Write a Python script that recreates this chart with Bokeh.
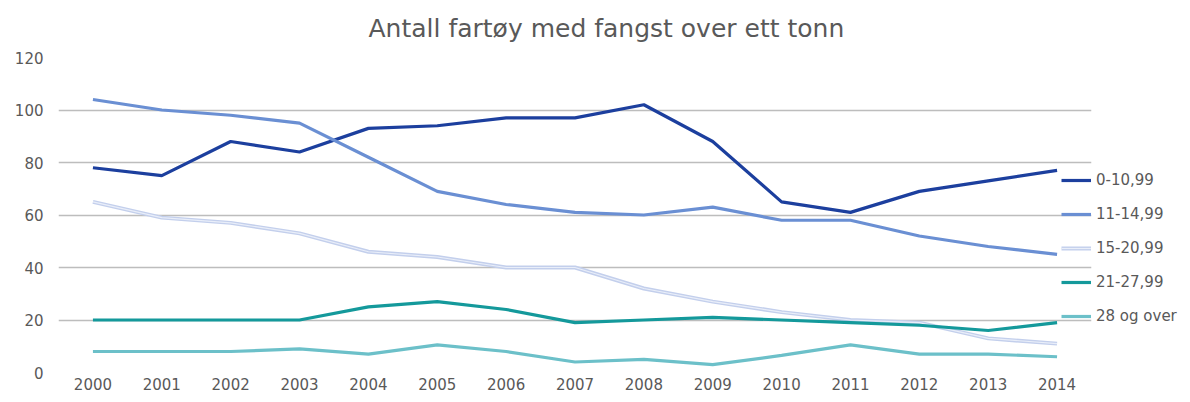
from bokeh.plotting import figure
from bokeh.models import Legend, LegendItem, Range1d, FactorRange, ColumnDataSource
from bokeh.embed import file_html
from bokeh.resources import INLINE

years = ["2000", "2001", "2002", "2003", "2004", "2005", "2006", "2007",
         "2008", "2009", "2010", "2011", "2012", "2013", "2014"]
s_0_10 = [78, 75, 88, 84, 93, 94, 97, 97, 102, 88, 65, 61, 69, 73, 77]
s_11_14 = [104, 100, 98, 95, 82, 69, 64, 61, 60, 63, 58, 58, 52, 48, 45]
s_15_20 = [65, 59, 57, 53, 46, 44, 40, 40, 32, 27, 23, 20, 19, 13, 11]
s_21_27 = [20, 20, 20, 20, 25, 27, 24, 19, 20, 21, 20, 19, 18, 16, 19]
s_28 = [8, 8, 8, 9, 7, 10.5, 8, 4, 5, 3, 6.5, 10.5, 7, 7, 6]
names = ["0-10,99", "11-14,99", "15-20,99", "21-27,99", "28 og over"]
colors = ["#1c3f9e", "#6a8fd3", "#c3cfec", "#14999b", "#6cc0c9"]
y_ticks = [0, 20, 40, 60, 80, 100, 120]
title_text = "Antall fartøy med fangst over ett tonn"

FONT = "DejaVu Sans"
GRAY = "#595959"

p = figure(x_range=FactorRange(*years, range_padding=0), y_range=Range1d(0, 120),
           frame_width=1033, frame_height=315,
           min_border_left=58, min_border_right=10, min_border_top=57, min_border_bottom=25,
           output_backend="svg", toolbar_location=None, title=title_text)

p.title.text_font = FONT
p.title.text_font_size = "25px"
p.title.text_font_style = "normal"
p.title.text_color = GRAY
p.title.align = "left"
p.title.offset = 310
p.title.vertical_align = "top"
p.title.standoff = 26

p.xgrid.grid_line_color = None
p.ygrid.grid_line_color = "#bdbdbd"
p.ygrid.grid_line_width = 1.5
p.ygrid.ticker = y_ticks
p.yaxis.ticker = y_ticks
p.outline_line_color = None

for ax in (p.xaxis[0], p.yaxis[0]):
    ax.axis_line_color = None
    ax.major_tick_line_color = None
    ax.minor_tick_line_color = None
    ax.major_tick_out = 0
    ax.major_tick_in = 0
    ax.minor_tick_out = 0
    ax.minor_tick_in = 0
    ax.major_label_text_font = FONT
    ax.major_label_text_font_size = "15px"
    ax.major_label_text_color = GRAY
p.yaxis.major_label_standoff = 15
p.xaxis.major_label_standoff = 5

series = [s_0_10, s_11_14, s_15_20, s_21_27, s_28]
glyph_items = []
label_items = []
for name, col, vals in zip(names, colors, series):
    src = ColumnDataSource(dict(x=years, y=vals))
    r = p.line("x", "y", source=src, line_color=col, line_width=3.2 if name != "15-20,99" else 4)
    rs = [r]
    if name == "15-20,99":
        r2 = p.line("x", "y", source=src, line_color="#e9eef9", line_width=1.2)
        rs.append(r2)
    glyph_items.append(LegendItem(label=" ", renderers=rs))
    label_items.append(LegendItem(label=name, renderers=[r]))

common = dict(orientation="vertical", glyph_height=20, spacing=14, label_height=20,
              padding=0, margin=0, background_fill_alpha=0, border_line_color=None,
              label_text_font=FONT, label_text_font_size="15px", label_text_color=GRAY)

legend_glyphs = Legend(items=glyph_items, location=(1003, 46), glyph_width=30,
                       label_standoff=0, label_width=0, **common)
p.add_layout(legend_glyphs, "center")

legend_labels = Legend(items=label_items, location=(0, 46), glyph_width=0,
                       label_standoff=5, **common)
p.add_layout(legend_labels, "right")

open("out.html", "w").write(file_html(p, INLINE))
